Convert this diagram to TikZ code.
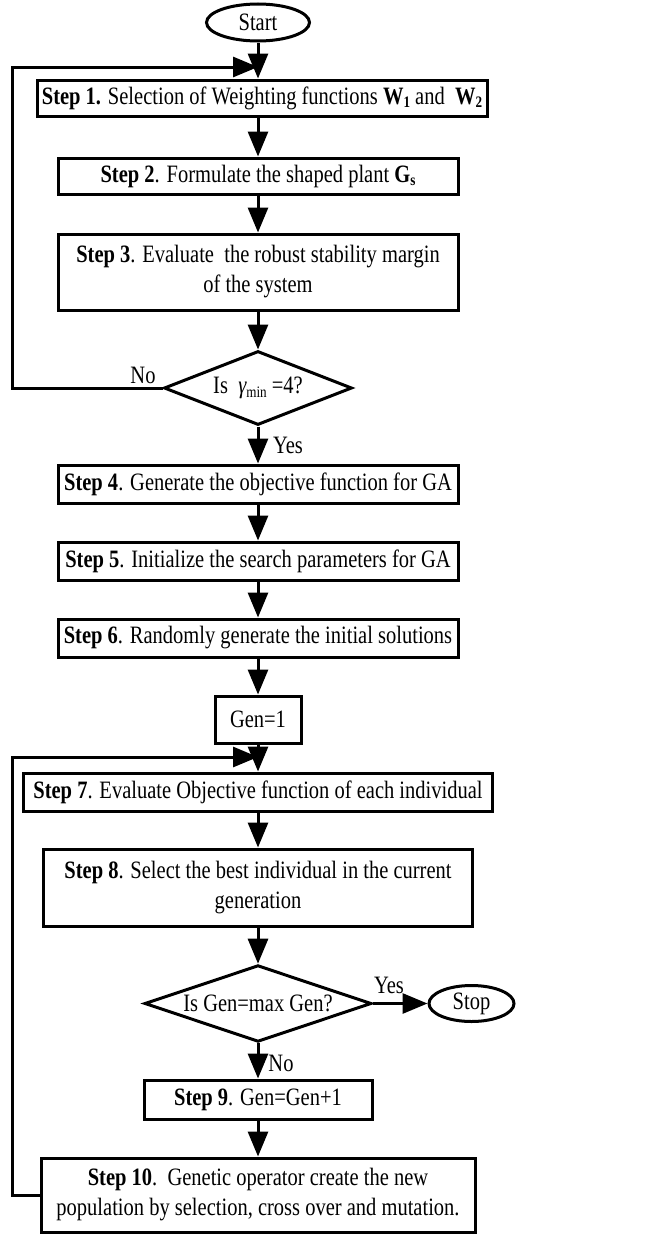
\documentclass[tikz,border=0pt]{standalone}
\usepackage{fontspec}
\setmainfont{Liberation Serif}[FakeStretch=0.82]
\usetikzlibrary{shapes.geometric,arrows.meta}
\newcommand\sbs[1]{\raisebox{-0.3ex}{\fontsize{16pt}{16pt}\selectfont #1}}
\begin{document}
\begin{tikzpicture}[x=1pt,y=-1pt,
 every node/.style={font=\fontsize{25pt}{30pt}\selectfont},
 box/.style={draw, line width=3pt, rectangle, inner sep=0pt, align=center},
 term/.style={draw, line width=3pt, ellipse, inner sep=0pt},
 dec/.style={draw, line width=3pt, diamond, inner sep=0pt, aspect=2.5},
 arr/.style={line width=3pt, -{Triangle[length=25pt,width=20pt]}},
 lbl/.style={inner sep=0pt}]
\useasboundingbox (0,0) rectangle (665,1234);

\node[term, minimum width=103pt, minimum height=37pt] (start) at (258,22.5) {Start};
\node[box, minimum width=450pt, minimum height=36pt] (s1) at (262,98) {\textbf{Step 1.} Selection of Weighting functions \textbf{W}\sbs{\textbf{1}} and~~\textbf{W}\sbs{\textbf{2}}};
\node[box, minimum width=400pt, minimum height=36pt] (s2) at (258,176) {\textbf{Step 2}. Formulate the shaped plant \textbf{G}\sbs{\textbf{s}}};
\node[box, minimum width=400pt, minimum height=76pt] (s3) at (258,272) {\textbf{Step 3}. Evaluate~~the robust stability margin\\of the system};
\node[dec, minimum width=188pt, minimum height=74pt] (d1) at (258,388) {Is~~{\itshape γ}\sbs{min}~=4?};
\node[box, minimum width=400pt, minimum height=38pt] (s4) at (258,484) {\textbf{Step 4}. Generate the objective function for GA};
\node[box, minimum width=400pt, minimum height=38pt] (s5) at (258,561) {\textbf{Step 5}. Initialize the search parameters for GA};
\node[box, minimum width=400pt, minimum height=38pt] (s6) at (258,638) {\textbf{Step 6}. Randomly generate the initial solutions};
\node[box, minimum width=86pt, minimum height=47pt] (g1) at (258,719.5) {Gen=1};
\node[box, minimum width=469pt, minimum height=38pt] (s7) at (258,792) {\textbf{Step 7}. Evaluate Objective function of each individual};
\node[box, minimum width=429pt, minimum height=77pt] (s8) at (258,887.5) {\textbf{Step 8}. Select the best individual in the current\\generation};
\node[dec, minimum width=227pt, minimum height=76pt] (d2) at (258,1003.5) {Is Gen=max Gen?};
\node[term, minimum width=85pt, minimum height=36pt] (stop) at (471.5,1003.5) {Stop};
\node[box, minimum width=228pt, minimum height=39pt] (s9) at (258,1099.5) {\textbf{Step 9}. Gen=Gen+1};
\node[box, minimum width=434pt, minimum height=74pt] (s10) at (258,1195) {\textbf{Step 10}.~~Genetic operator create the new\\population by selection, cross over and mutation.};

\node[lbl] (yes1) at (288,445) {Yes};
\node[lbl] (no1) at (143,375) {No};
\node[lbl] (yes2) at (389,985) {Yes};
\node[lbl] (no2) at (281,1063) {No};

\coordinate (l1a) at (12,388);
\coordinate (l1b) at (12,67);
\coordinate (j1) at (258,67);
\coordinate (l2a) at (12,1195);
\coordinate (l2b) at (12,757);
\coordinate (j2) at (258,757);

\draw[arr] (start.south) -- (start.south |- s1.north);
\draw[arr] (s1.south -| s2.north) -- (s2.north);
\draw[arr] (s2.south) -- (s3.north);
\draw[arr] (s3.south) -- (d1.north);
\draw[arr] (d1.south) -- (s4.north);
\draw[arr] (s4.south) -- (s5.north);
\draw[arr] (s5.south) -- (s6.north);
\draw[arr] (s6.south) -- (g1.north);
\draw[arr] (g1.south) -- (s7.north);
\draw[arr] (s7.south) -- (s8.north);
\draw[arr] (s8.south) -- (d2.north);
\draw[arr] (d2.east) -- (stop.west);
\draw[arr] (d2.south) -- (s9.north);
\draw[arr] (s9.south) -- (s10.north);
\draw[arr] (d1.west) -- (l1a) -- (l1b) -- (j1);
\draw[arr] (s10.west) -- (l2a) -- (l2b) -- (j2);
\end{tikzpicture}
\end{document}
